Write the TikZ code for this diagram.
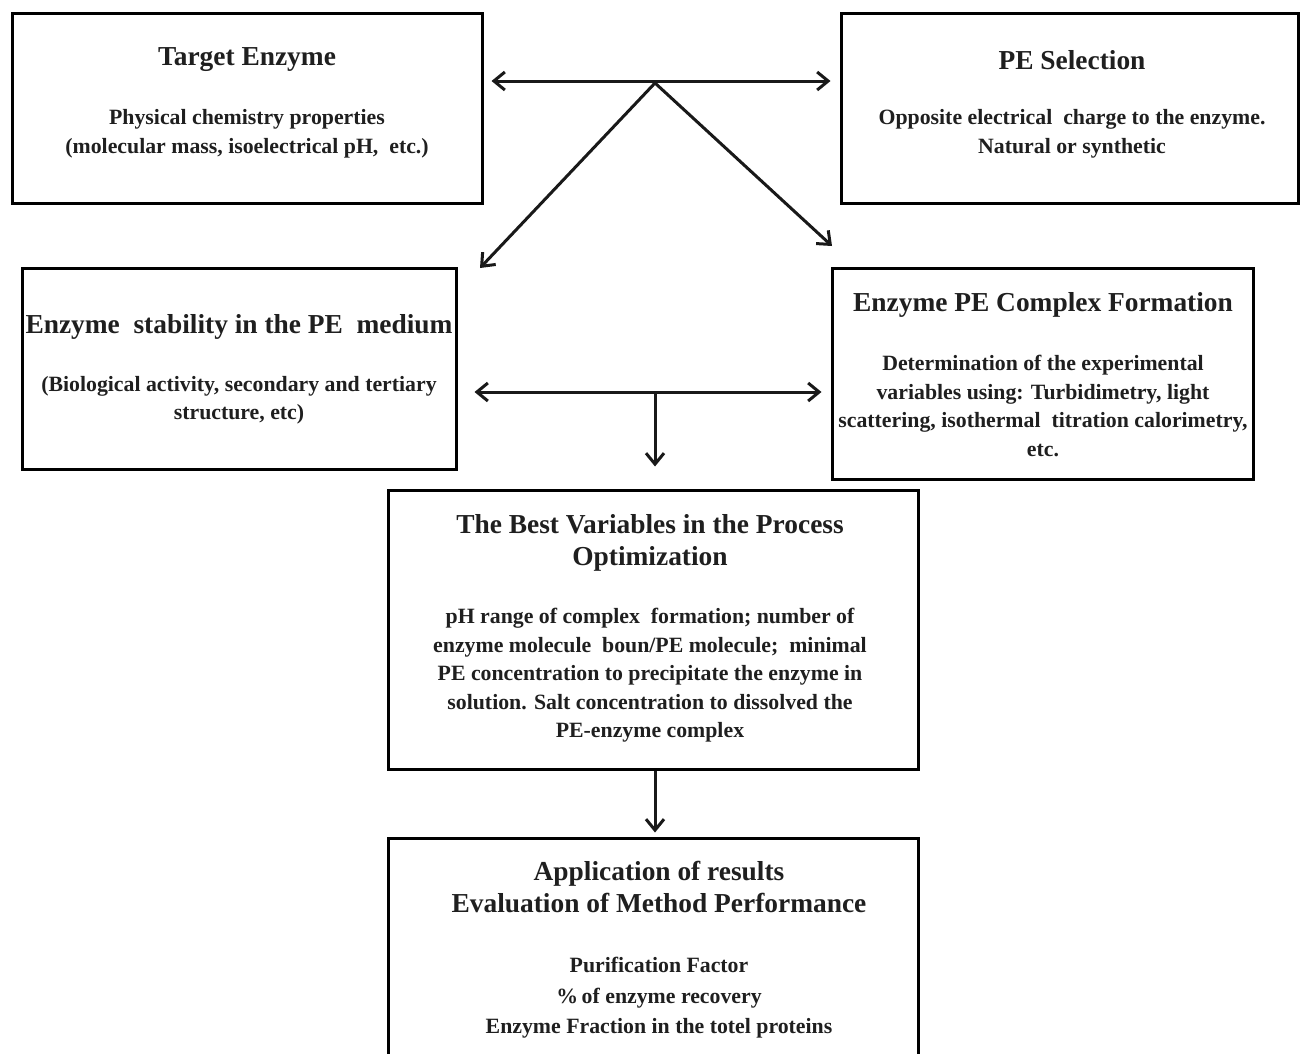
\documentclass[tikz,border=0pt]{standalone}
\usepackage{fontspec}
\setmainfont{Liberation Serif}
\usetikzlibrary{arrows.meta}
\tikzset{
  box/.style={draw=black, line width=3pt, rectangle, inner sep=0pt},
  ttl/.style={align=center, inner sep=0pt, text=black!88, font=\fontsize{27.4}{32}\selectfont\bfseries},
  bdy/.style={align=center, inner sep=0pt, text=black!88, font=\fontsize{21.8}{28.5}\selectfont\bfseries},
  conn/.style={line width=3pt, draw=black!90},
  tip/.style={-{Straight Barb[length=11pt,width=18pt,line width=3pt]}},
  dtip/.style={{Straight Barb[length=11pt,width=18pt,line width=3pt]}-{Straight Barb[length=11pt,width=18pt,line width=3pt]}}
}
\begin{document}
\begin{tikzpicture}[x=1pt,y=-1pt]
\useasboundingbox[fill=white] (0,0) rectangle (1300,1053);
% boxes
\node[box, minimum width=470pt, minimum height=190pt] (b1) at (247,108) {};
\node[box, minimum width=457pt, minimum height=190pt] (b2) at (1069.5,108) {};
\node[box, minimum width=434pt, minimum height=201pt] (b3) at (239,368.5) {};
\node[box, minimum width=421pt, minimum height=211pt] (b4) at (1042.5,373.5) {};
\node[box, minimum width=530pt, minimum height=279pt] (b5) at (653,629.5) {};
\node[box, minimum width=530pt, minimum height=242pt] (b6) at (653,959) {};
% texts
\node[ttl] (t1) at (247,60) {Target Enzyme};
\node[bdy] (s1) at (247,134) {Physical chemistry properties\\(molecular mass, isoelectrical pH,\ \ etc.)};
\node[ttl] (t2) at (1072,60) {PE Selection};
\node[bdy] (s2) at (1072,134) {Opposite electrical\ \ charge to the enzyme.\\Natural or synthetic};
\node[ttl] (t3) at (239,327) {Enzyme\ \ stability in the PE\ \ medium};
\node[bdy] (s3) at (239,400) {(Biological activity, secondary and tertiary\\structure, etc)};
\node[ttl] (t4) at (1043,305) {Enzyme PE Complex Formation};
\node[bdy] (s4) at (1043,406) {Determination of the experimental\\variables using: Turbidimetry, light\\scattering, isothermal\ \ titration calorimetry,\\etc.};
\node[ttl] (t5) at (650,543) {The Best Variables in the Process\\Optimization};
\node[bdy] (s5) at (650,675.5) {pH range of complex\ \ formation; number of\\enzyme molecule\ \ boun/PE molecule;\ \ minimal\\PE concentration to precipitate the enzyme in\\solution. Salt concentration to dissolved the\\PE-enzyme complex};
\node[ttl] (t6) at (659,887) {Application of results\\Evaluation of Method Performance};
\node[bdy, font=\fontsize{21.8}{30.5}\selectfont\bfseries] (s6) at (659,998) {Purification Factor\\\%\,of enzyme recovery\\Enzyme Fraction in the totel proteins};
% connectors
\coordinate (hy) at (0,81);
\coordinate (apex) at (655,83);
\coordinate (dl) at (480,268);
\coordinate (dr) at (832,246);
\coordinate (my) at (0,392);
\coordinate (mid) at (655,392);
\draw[conn, dtip, shorten <=8pt, shorten >=9pt] (b1.east |- hy) -- (b2.west |- hy);
\draw[conn, tip] (apex) -- (dl);
\draw[conn, tip] (apex) -- (dr);
\draw[conn, dtip, shorten <=17pt, shorten >=9pt] (b3.east |- my) -- (b4.west |- my);
\draw[conn, tip, shorten >=22pt] (mid) -- (mid |- b5.north);
\draw[conn, tip, shorten >=4pt] (b5.south -| mid) -- (b6.north -| mid);
\end{tikzpicture}
\end{document}
